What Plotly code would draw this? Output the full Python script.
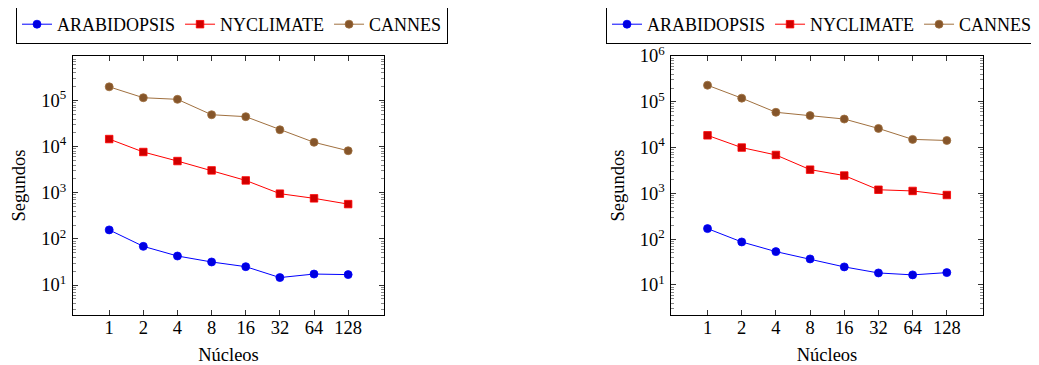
import plotly.graph_objects as go
import math

cores = [1, 2, 4, 8, 16, 32, 64, 128]
core_labels = ["1", "2", "4", "8", "16", "32", "64", "128"]

# Left chart
left_arabidopsis = [157, 69, 42.6, 31.6, 25, 14.5, 17.3, 16.8]
left_nyclimate = [14700, 7700, 4900, 3070, 1860, 960, 760, 570]
left_cannes = [200000, 116000, 107000, 49600, 45000, 23400, 12500, 8200]

# Right chart
right_arabidopsis = [170, 87, 53.5, 37, 24.8, 18.3, 16.6, 18.6]
right_nyclimate = [18500, 10000, 6900, 3300, 2450, 1200, 1130, 920]
right_cannes = [230000, 120000, 59000, 50000, 42000, 26200, 15100, 14300]

series_names = ["ARABIDOPSIS", "NYCLIMATE", "CANNES"]

FONT = "Liberation Serif"
FS = 18.5
line_colors = ["#0000ff", "#ff0000", "#a0703f"]
fill_colors = ["#0000e0", "#d00000", "#85552a"]
symbols = ["circle", "square", "circle"]

fig = go.Figure()

def add_series(data, xa, ya, legend):
    for name, vals, lc, fc, sym in zip(series_names, data, line_colors, fill_colors, symbols):
        fig.add_trace(go.Scatter(
            x=cores, y=vals, name=name, mode="lines+markers",
            xaxis=xa, yaxis=ya, legend=legend,
            line=dict(color=lc, width=1),
            marker=dict(symbol=sym, size=8 if sym == "circle" else 7.5,
                        color=fc, line=dict(color=lc, width=0.8)),
        ))

add_series([left_arabidopsis, left_nyclimate, left_cannes], "x", "y", "legend")
add_series([right_arabidopsis, right_nyclimate, right_cannes], "x2", "y2", "legend2")

# page has an 8px body margin: figure origin sits at (8, 8)
OFF = 8
W, H = 1039 - OFF, 365 - OFF
def px(x):
    return (x - OFF) / W
def py(y):
    return 1 - (y - OFF) / H

xlo = math.log10(2 ** -1.06)
xhi = math.log10(2 ** 8.05)

major_vals = [10 ** k for k in range(0, 7)]
major_text = ["10<sup>%d</sup>" % k for k in range(0, 7)]
minor_vals = [m * 10 ** k for k in range(0, 7) for m in range(2, 10)]

def xaxis(domain, anchor):
    return dict(
        type="log", domain=domain, range=[xlo, xhi], anchor=anchor,
        automargin=False,
        tickmode="array", tickvals=cores, ticktext=core_labels,
        ticks="inside", ticklen=5, tickcolor="#333", tickwidth=1,
        ticklabelstandoff=-4,
        showline=True, linecolor="black", linewidth=1, mirror="ticks",
        showgrid=False, zeroline=False,
        tickfont=dict(family=FONT, size=FS, color="black"),
        title=dict(text="Núcleos", font=dict(family=FONT, size=FS, color="black")),
    )

def yaxis(domain, rng, anchor):
    return dict(
        type="log", domain=domain, range=rng, anchor=anchor,
        automargin=False,
        tickmode="array", tickvals=major_vals, ticktext=major_text,
        ticks="inside", ticklen=5, tickcolor="#333", tickwidth=1,
        ticklabelstandoff=2,
        minor=dict(tickmode="array", tickvals=minor_vals, ticks="inside",
                   ticklen=3, tickcolor="#888", tickwidth=1, showgrid=False),
        showline=True, linecolor="black", linewidth=1, mirror="ticks",
        showgrid=False, zeroline=False,
        tickfont=dict(family=FONT, size=FS, color="black"),
        title=dict(text="Segundos", font=dict(family=FONT, size=FS, color="black"),
                   standoff=10),
    )

ydom = [py(315), py(56)]
legend_common = dict(orientation="h", yanchor="top", y=py(5), xanchor="left",
                     bordercolor="black", borderwidth=1, bgcolor="white",
                     font=dict(family=FONT, size=18, color="black"),
                     itemwidth=30, tracegroupgap=0)
fig.update_layout(
    width=W, height=H,
    margin=dict(l=0, r=0, t=0, b=0, autoexpand=False),
    paper_bgcolor="white", plot_bgcolor="white",
    font=dict(family=FONT, size=FS, color="black"),
    xaxis=xaxis([px(73), px(384)], "y"),
    yaxis=yaxis(ydom, [0.349, 5.97], "x"),
    xaxis2=xaxis([px(671.3), px(982.7)], "y2"),
    yaxis2=yaxis(ydom, [0.344, 6.0], "x2"),
    legend=dict(legend_common, x=px(16)),
    legend2=dict(legend_common, x=px(606)),
    showlegend=True,
)

fig.write_html("out.html")
